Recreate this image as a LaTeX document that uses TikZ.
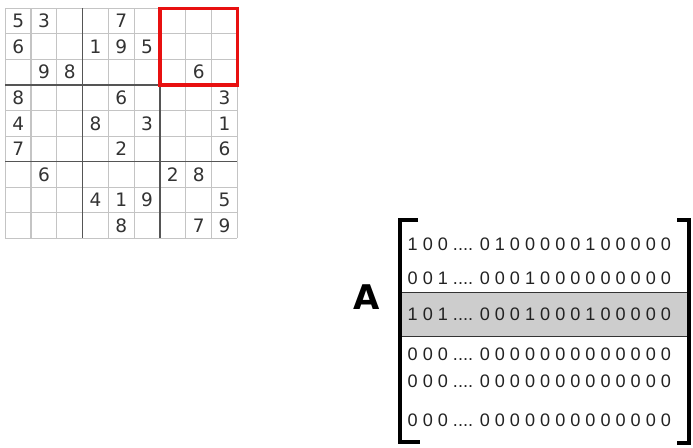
\documentclass[tikz,border=0pt]{standalone}
\usepackage{fontspec}
\setmainfont{Liberation Sans}
\newfontfamily\sudokufont{DejaVu Sans}
\newfontfamily\matfont{Liberation Sans}
\definecolor{thingrid}{HTML}{C4C4C4}
\definecolor{thickgrid}{HTML}{555555}
\definecolor{digitcol}{HTML}{333333}
\definecolor{boxred}{HTML}{E81010}
\definecolor{bandgray}{HTML}{CDCDCD}
\definecolor{bandline}{HTML}{333333}
\definecolor{mattext}{HTML}{222222}
\tikzset{
  thinline/.style={draw=thingrid, line width=1.2pt},
  thickline/.style={draw=thickgrid, line width=1.5pt},
  sdigit/.style={inner sep=0pt, text=digitcol, font=\sudokufont\fontsize{18.5}{20}\selectfont},
  redbox/.style={draw=boxred, line width=3.3pt},
  bracketline/.style={draw=black, line width=3.3pt, line join=miter},
  matrow/.style={inner sep=0pt, anchor=base west, text=mattext, font=\matfont\fontsize{18.1}{20}\selectfont},
  bandfill/.style={fill=bandgray},
  bandedge/.style={draw=bandline, line width=1.3pt},
  bigA/.style={inner sep=0pt, font=\sudokufont\bfseries\fontsize{34}{40}\selectfont}
}
\begin{document}
\begin{tikzpicture}[x=1pt,y=-1pt]
\useasboundingbox (0,0) rectangle (693,447);
\def\gx{5.3}\def\gy{8.3}\def\cw{25.78}\def\ch{25.56}
% thin grid
\foreach \i in {0,...,9}{
  \draw[thinline] ({\gx+\i*\cw},\gy) -- ({\gx+\i*\cw},{\gy+9*\ch});
  \draw[thinline] (\gx,{\gy+\i*\ch}) -- ({\gx+9*\cw},{\gy+\i*\ch});
}
% thick block lines
\foreach \i in {3,6}{
  \draw[thickline] ({\gx+\i*\cw},\gy) -- ({\gx+\i*\cw},{\gy+9*\ch});
  \draw[thickline] (\gx,{\gy+\i*\ch}) -- ({\gx+9*\cw},{\gy+\i*\ch});
}
% digits: row/col/digit
\foreach \r/\c/\d [count=\k] in {
  0/0/5,0/1/3,0/4/7,
  1/0/6,1/3/1,1/4/9,1/5/5,
  2/1/9,2/2/8,2/7/6,
  3/0/8,3/4/6,3/8/3,
  4/0/4,4/3/8,4/5/3,4/8/1,
  5/0/7,5/4/2,5/8/6,
  6/1/6,6/6/2,6/7/8,
  7/3/4,7/4/1,7/5/9,7/8/5,
  8/4/8,8/7/7,8/8/9}{
  \node[sdigit] (cell\k) at ({\gx+(\c+0.5)*\cw},{\gy+(\r+0.5)*\ch}) {\d};
}
% red box
\draw[redbox] ({\gx+6*\cw},\gy) rectangle ({\gx+9*\cw},{\gy+3*\ch});
% matrix
\fill[bandfill] (400,292.5) rectangle (691,336.7);
\draw[bandedge] (400,292.5) -- (691,292.5);
\draw[bandedge] (400,336.7) -- (691,336.7);
\draw[bracketline] (418,220) -- (400,220) -- (400,442) -- (420,442);
\draw[bracketline] (677,220) -- (689,220) -- (689,443) -- (677,443);
\node[matrow] (row1) at (407.5,250.0) {1 0 0 .... 0 1 0 0 0 0 0 1 0 0 0 0 0};
\node[matrow] (row2) at (407.5,284.0) {0 0 1 .... 0 0 0 1 0 0 0 0 0 0 0 0 0};
\node[matrow] (row3) at (407.5,320.5) {1 0 1 .... 0 0 0 1 0 0 0 1 0 0 0 0 0};
\node[matrow] (row4) at (407.5,360.2) {0 0 0 .... 0 0 0 0 0 0 0 0 0 0 0 0 0};
\node[matrow] (row5) at (407.5,387.5) {0 0 0 .... 0 0 0 0 0 0 0 0 0 0 0 0 0};
\node[matrow] (row6) at (407.5,426.2) {0 0 0 .... 0 0 0 0 0 0 0 0 0 0 0 0 0};
\node[bigA] (labelA) at (366.3,297.5) {A};
\end{tikzpicture}
\end{document}
